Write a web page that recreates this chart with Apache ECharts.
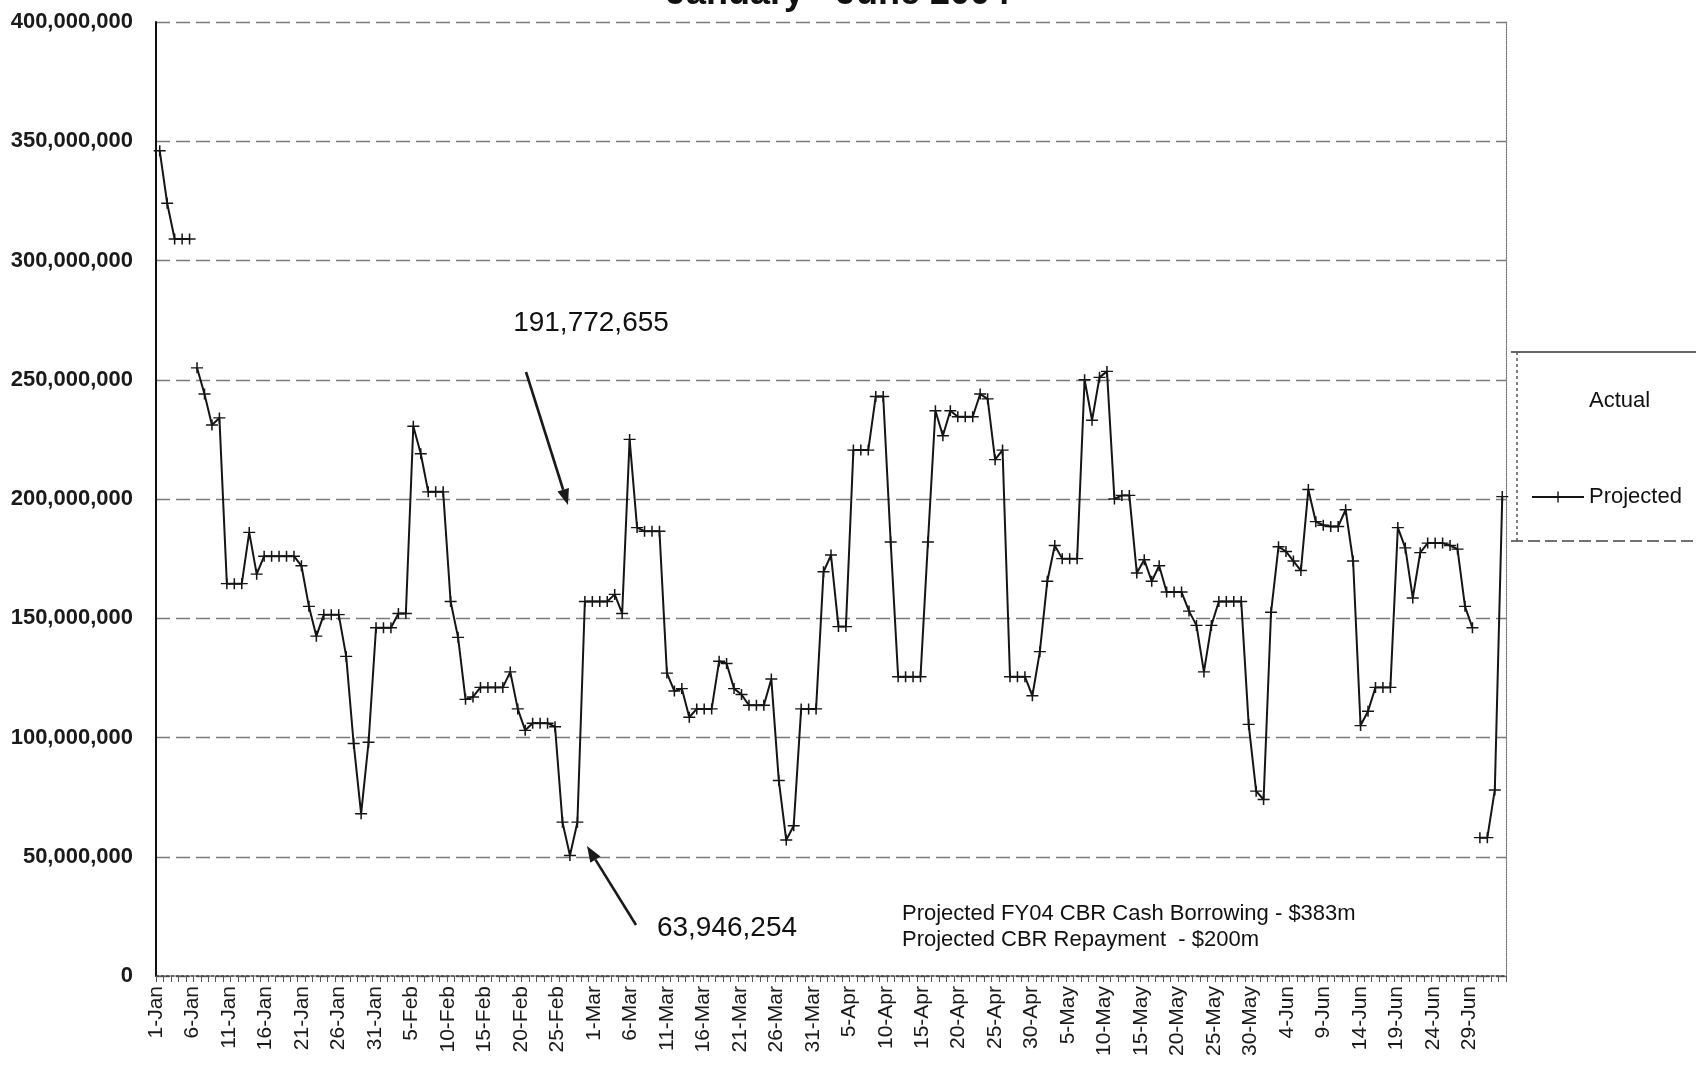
<!DOCTYPE html>
<html>
<head>
<meta charset="utf-8">
<script src="https://cdn.jsdelivr.net/npm/echarts@6/dist/echarts.min.js"></script>
<style>
html,body{margin:0;padding:0;background:#ffffff;}
#chart{width:1696px;height:1075px;}
</style>
</head>
<body>
<div id="chart"></div>
<script>
// ---------------- data ----------------
const firstDay = Date.UTC(2004, 0, 1);
const dayCount = 181;          // plotted days: 1-Jan .. 29-Jun 2004
const labelDayCount = 186;     // date scale printed under the axis: 1-Jan .. 4-Jul
const lastLabelIndex = 180;    // last printed label: 29-Jun
const monthNames = ['Jan','Feb','Mar','Apr','May','Jun','Jul','Aug','Sep','Oct','Nov','Dec'];
const labelEvery = 5;

const yMin = 0, yMax = 400000000, yStep = 50000000;

// values in $ millions, one per calendar day
const projectedOpening = [346, 324, 309, 309, 309];               // first five days
const openingStartIndex = 0;

const projectedMain = [                                            // following days
  255, 244, 231, 234, 164.5, 164.5, 164.5, 186, 168.5, 176,
  176, 176, 176, 176, 172, 155, 142.5, 151.5, 151.5, 151.5,
  134, 97.5, 68, 98, 146, 146, 146, 152, 152, 230.5,
  219, 203, 203, 203, 157, 142, 116, 117, 121, 121,
  121, 121, 127.5, 112, 103, 106, 106, 106, 104.5, 64.5,
  50.5, 64.5, 157, 157, 157, 157, 160, 152, 225, 188,
  186.5, 186.5, 186.5, 127, 119.5, 120.5, 108.5, 112, 112, 112,
  132, 131, 120.5, 118, 113.5, 113.5, 113.5, 124.5, 82, 57,
  63, 112, 112, 112, 169.5, 176.5, 146.5, 146.5, 220.5, 220.5,
  220.5, 243, 243, 182, 125.5, 125.5, 125.5, 125.5, 182, 237,
  226.5, 237, 234.5, 234.5, 234.5, 244, 242, 216.5, 220.5, 125.5,
  125.5, 125.5, 117.5, 136, 165.5, 180.5, 175, 175, 175, 250,
  233, 251, 253.5, 200, 201.5, 201.5, 169, 174.5, 165.5, 172,
  161, 161, 161, 153, 147, 127.5, 147, 157, 157, 157,
  157, 105.5, 77.5, 74, 152.5, 180, 178, 174, 170, 204,
  190.5, 189, 188.5, 188.5, 195.5, 174, 105, 111, 121, 121,
  121, 188, 179.5, 158.5, 177.5, 181.5, 181.5, 181.5, 180.5, 179,
  155, 146
];
const mainStartIndex = 5;

const projectedClosing = [58, 58, 78, 201];                        // last four days
const closingStartIndex = 177;

const annotationHigh = '191,772,655';
const annotationLow = '63,946,254';
const noteLines = ['Projected FY04 CBR Cash Borrowing - $383m', 'Projected CBR Repayment  - $200m'];
const chartTitle = 'January - June 2004';

// ---------------- build ----------------
function dayLabels(n) {
  const out = [];
  for (let i = 0; i < n; i++) {
    const d = new Date(firstDay + i * 86400000);
    out.push(d.getUTCDate() + '-' + monthNames[d.getUTCMonth()]);
  }
  return out;
}
const categories = dayLabels(dayCount);
const labelCategories = dayLabels(labelDayCount);

function place(values, start) {
  const arr = new Array(dayCount).fill('-');
  values.forEach((v, i) => { arr[start + i] = (v === null ? '-' : v * 1e6); });
  return arr;
}

const FONT = '"Liberation Sans", Arial, sans-serif';
const plusSymbol = 'path://M0,9.6H22V12.4H0Z M9.6,0H12.4V22H9.6Z';

const lineSeriesBase = {
  type: 'line',
  name: 'Projected',
  xAxisIndex: 0,
  symbol: plusSymbol,
  symbolSize: [12, 11],
  showAllSymbol: true,
  connectNulls: true,
  lineStyle: { color: '#151515', width: 2 },
  itemStyle: { color: '#151515' },
  emphasis: { disabled: true },
  animation: false,
  z: 5
};

function arrow(x1, y1, x2, y2) {
  const ang = Math.atan2(y2 - y1, x2 - x1);
  const L = 16, W = 6;
  const bx = x2 - L * Math.cos(ang), by = y2 - L * Math.sin(ang);
  const px = -Math.sin(ang) * W, py = Math.cos(ang) * W;
  return [
    { type: 'line', shape: { x1: x1, y1: y1, x2: bx, y2: by }, style: { stroke: '#1a1a1a', lineWidth: 2.6 }, z: 10 },
    { type: 'polygon', shape: { points: [[x2, y2], [bx + px, by + py], [bx - px, by - py]] }, style: { fill: '#1a1a1a' }, z: 10 }
  ];
}

const chart = echarts.init(document.getElementById('chart'), null, { renderer: 'canvas' });

const option = {
  backgroundColor: '#ffffff',
  animation: false,
  grid: { left: 156, top: 22, width: 1350, height: 954, containLabel: false },
  legend: {
    orient: 'vertical',
    left: 1526, top: 385,
    itemWidth: 52, itemHeight: 14, itemGap: 74,
    data: ['Actual', 'Projected'],
    textStyle: { fontFamily: FONT, fontSize: 22, color: '#111', lineHeight: 22 },
    selectedMode: false
  },
  xAxis: [{
    type: 'category',
    data: categories,
    boundaryGap: true,
    axisLine: { show: true, lineStyle: { color: '#333', width: 1.5, type: [3, 2] } },
    axisTick: { show: true, interval: 0, length: 6, lineStyle: { color: '#555', width: 1 } },
    axisLabel: { show: false },
    splitLine: { show: false }
  }, {
    type: 'category',
    data: labelCategories,
    position: 'bottom',
    boundaryGap: false,
    axisLine: { show: false },
    axisTick: { show: false },
    axisLabel: {
      interval: (idx) => idx % labelEvery === 0 && idx <= lastLabelIndex,
      rotate: 90, margin: 10,
      fontFamily: FONT, fontSize: 21, color: '#1a1a1a'
    },
    splitLine: { show: false }
  }],
  yAxis: [{
    type: 'value',
    min: yMin, max: yMax, interval: yStep,
    axisLine: { show: true, lineStyle: { color: '#111', width: 2 } },
    axisTick: { show: false },
    axisLabel: {
      margin: 23, fontFamily: FONT, fontSize: 22, fontWeight: 'bold', color: '#1a1a1a',
      formatter: (v) => Number(v).toLocaleString('en-US')
    },
    splitLine: { show: true, lineStyle: { color: '#7a7a7a', width: 1.3, type: [14, 6] } }
  }, {
    type: 'value', position: 'right',
    min: yMin, max: yMax, interval: yStep,
    axisLine: { show: true, lineStyle: { color: '#777', width: 1.2, type: 'dotted' } },
    axisTick: { show: false }, axisLabel: { show: false }, splitLine: { show: false }
  }],
  series: [
    {
      type: 'line', name: 'Actual', data: [], symbol: 'none',
      lineStyle: { color: 'rgba(0,0,0,0)' }, itemStyle: { color: 'rgba(0,0,0,0)' }
    },
    Object.assign({}, lineSeriesBase, { data: place(projectedOpening, openingStartIndex) }),
    Object.assign({}, lineSeriesBase, { data: place(projectedMain, mainStartIndex) }),
    Object.assign({}, lineSeriesBase, { data: place(projectedClosing, closingStartIndex) })
  ],
  graphic: [
    { type: 'text', x: 838, y: 12, style: { text: chartTitle, font: 'bold 36px ' + FONT, fill: '#111', textAlign: 'center', textVerticalAlign: 'bottom' }, z: 10 },
    { type: 'text', x: 591, y: 323, style: { text: annotationHigh, font: '28px ' + FONT, fill: '#111', textAlign: 'center', textVerticalAlign: 'middle' }, z: 10 },
    { type: 'text', x: 727, y: 928, style: { text: annotationLow, font: '28px ' + FONT, fill: '#111', textAlign: 'center', textVerticalAlign: 'middle' }, z: 10 },
    { type: 'text', x: 902, y: 914, style: { text: noteLines[0], font: '22px ' + FONT, fill: '#111', textAlign: 'left', textVerticalAlign: 'middle' }, z: 10 },
    { type: 'text', x: 902, y: 940, style: { text: noteLines[1], font: '22px ' + FONT, fill: '#111', textAlign: 'left', textVerticalAlign: 'middle' }, z: 10 },
    ...arrow(526, 372, 568, 505),
    ...arrow(636, 925, 587, 846),
    { type: 'line', shape: { x1: 1511, y1: 352, x2: 1696, y2: 352 }, style: { stroke: '#333', lineWidth: 1.5 }, z: 10 },
    { type: 'line', shape: { x1: 1511, y1: 541, x2: 1696, y2: 541 }, style: { stroke: '#444', lineWidth: 1.5, lineDash: [12, 5] }, z: 10 },
    { type: 'line', shape: { x1: 1517, y1: 352, x2: 1517, y2: 541 }, style: { stroke: '#555', lineWidth: 1.5, lineDash: [3, 3] }, z: 10 }
  ]
};
chart.setOption(option);
</script>
</body>
</html>
